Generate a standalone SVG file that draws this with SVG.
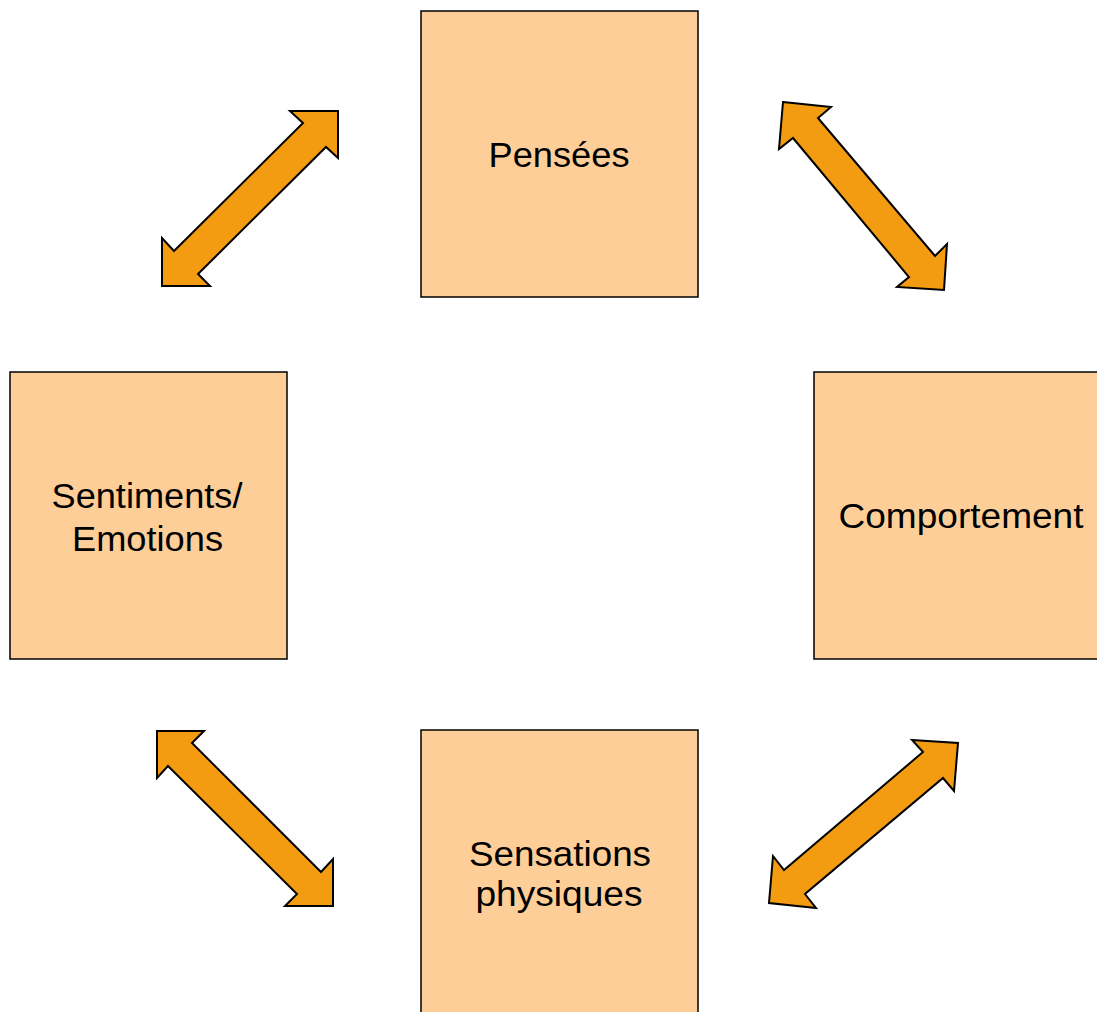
<svg xmlns="http://www.w3.org/2000/svg" width="1097" height="1012" viewBox="0 0 1097 1012">
<style>
.box{fill:#FECE98;stroke:#000;stroke-width:1.5}
.arr{fill:#F39C12;stroke:#000;stroke-width:2;stroke-linejoin:miter}
.t{font-family:"Liberation Sans",Arial,sans-serif;font-size:34.5px;fill:#000;text-anchor:middle}
</style>
<rect width="1097" height="1012" fill="#fff"/>
<g id="pensees"><rect class="box" x="421" y="11" width="277" height="286"/><text class="t" x="559" y="167" textLength="141" lengthAdjust="spacingAndGlyphs">Pensées</text></g>
<g id="sentiments"><rect class="box" x="10" y="372" width="277" height="287"/><text class="t" x="147" y="508" textLength="191" lengthAdjust="spacingAndGlyphs">Sentiments/</text><text class="t" x="147.5" y="551" textLength="151" lengthAdjust="spacingAndGlyphs">Emotions</text></g>
<g id="comportement"><rect class="box" x="814" y="372" width="290" height="287"/><text class="t" x="961" y="528" textLength="245" lengthAdjust="spacingAndGlyphs">Comportement</text></g>
<g id="sensations"><rect class="box" x="421" y="730" width="277" height="290"/><text class="t" x="560" y="866" textLength="182" lengthAdjust="spacingAndGlyphs">Sensations</text><text class="t" x="559" y="906" textLength="167" lengthAdjust="spacingAndGlyphs">physiques</text></g>
<g id="connectors">
<polygon class="arr" points="290,111 338,111 338,158 326,147 198,274 210,286 162,286 162,238 174,251 303,123"/>
<polygon class="arr" points="783,102 831,107 818,118 935,256 947,244 944,290 897,287 909,277 793,138 779,149"/>
<polygon class="arr" points="157,731 204,731 192,743 321,872 333,859 333,906 285,906 297,894 168,766 157,778"/>
<polygon class="arr" points="912,740 958,743 954,791 943,778 805,894 816,908 769,903 773,856 784,870 923,752"/>
</g>
</svg>
